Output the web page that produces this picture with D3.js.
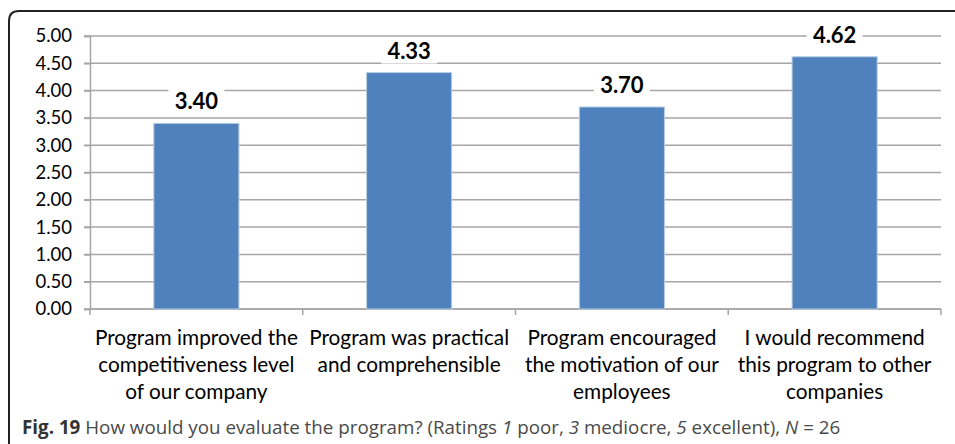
<!DOCTYPE html>
<html>
<head>
<meta charset="utf-8">
<script src="https://cdn.jsdelivr.net/npm/d3@7"></script>
<style>
  body { margin: 0; background: #fff; }
  svg { display: block; }
  .tick text { font-family: Lato, "Liberation Sans", sans-serif; }
</style>
</head>
<body>
<div id="canvas"></div>
<script>
const categories = [
  ['Program improved the', 'competitiveness level', 'of our company'],
  ['Program was practical', 'and comprehensible'],
  ['Program encouraged', 'the motivation of our', 'employees'],
  ['I would recommend', 'this program to other', 'companies']
];
const ratings = [3.40, 4.33, 3.70, 4.62];
const yTicks = [0, 0.5, 1, 1.5, 2, 2.5, 3, 3.5, 4, 4.5, 5];

const w = 955;
const h = 444;
const margin = { top: 36, right: 14, bottom: 135, left: 90 };

const svg = d3.select('#canvas')
  .append('svg')
  .attr('width', w)
  .attr('height', h);

// figure frame (rounded top-left corner)
svg.append('path')
  .attr('d', 'M9,' + h + ' L9,21 Q9,11 19,11 L' + w + ',11')
  .attr('fill', 'none')
  .attr('stroke', '#222')
  .attr('stroke-width', 2);

const xScale = d3.scaleBand()
  .domain(d3.range(categories.length))
  .range([margin.left, w - margin.right])
  .paddingInner(0.6)
  .paddingOuter(0.3);

const xOuter = d3.scaleBand()
  .domain(d3.range(categories.length))
  .range([margin.left, w - margin.right]);

const yScale = d3.scaleLinear()
  .domain([0, 5])
  .range([h - margin.bottom, margin.top]);

// gridlines
svg.append('g')
  .selectAll('line')
  .data(yTicks)
  .enter()
  .append('line')
  .attr('x1', margin.left - 6)
  .attr('x2', w - margin.right)
  .attr('y1', d => yScale(d))
  .attr('y2', d => yScale(d))
  .attr('stroke', '#a6a6a6')
  .attr('stroke-width', 1.5);

const yAxis = d3.axisLeft(yScale)
  .tickValues(yTicks)
  .tickFormat(d3.format('.2f'))
  .tickSize(6)
  .tickPadding(12);

const gy = svg.append('g')
  .attr('transform', 'translate(' + margin.left + ', 0)')
  .call(yAxis);
gy.select('.domain').attr('stroke', '#a6a6a6').attr('stroke-width', 1.5);
gy.selectAll('.tick line').attr('stroke', '#a6a6a6').attr('stroke-width', 1.5);
gy.selectAll('.tick text').attr('font-size', 18.5).attr('fill', '#000');

// x axis with category ticks at band boundaries
const boundaries = d3.range(categories.length + 1);
const gx = svg.append('g');
gx.append('line')
  .attr('x1', margin.left)
  .attr('x2', w - margin.right)
  .attr('y1', yScale(0))
  .attr('y2', yScale(0))
  .attr('stroke', '#a6a6a6')
  .attr('stroke-width', 1.5);
gx.selectAll('line.tk')
  .data(boundaries)
  .enter()
  .append('line')
  .attr('class', 'tk')
  .attr('x1', d => margin.left + d * xOuter.step())
  .attr('x2', d => margin.left + d * xOuter.step())
  .attr('y1', yScale(0))
  .attr('y2', yScale(0) + 6)
  .attr('stroke', '#a6a6a6')
  .attr('stroke-width', 1.5);

gx.selectAll('text')
  .data(categories)
  .enter()
  .append('text')
  .attr('text-anchor', 'middle')
  .attr('font-family', 'Lato, "Liberation Sans", sans-serif')
  .attr('font-size', 20.8)
  .attr('fill', '#000')
  .each(function(lines, i) {
    d3.select(this).selectAll('tspan')
      .data(lines)
      .enter()
      .append('tspan')
      .attr('x', xOuter(i) + xOuter.bandwidth() / 2)
      .attr('y', (d, j) => yScale(0) + 36 + j * 27)
      .text(d => d);
  });

// bars
svg.append('g')
  .selectAll('rect')
  .data(ratings)
  .enter()
  .append('rect')
  .attr('x', (d, i) => xScale(i))
  .attr('y', d => yScale(d))
  .attr('width', xScale.bandwidth())
  .attr('height', d => yScale(0) - yScale(d))
  .attr('fill', '#4f81bd')
  .attr('stroke', '#b9cde5')
  .attr('stroke-width', 1);

// value labels with white background
const labels = svg.append('g')
  .selectAll('g')
  .data(ratings)
  .enter()
  .append('g')
  .attr('transform', (d, i) => 'translate(' + (xScale(i) + xScale.bandwidth() / 2) + ',' + (yScale(d) - 22) + ')');

labels.append('rect')
  .attr('x', -28)
  .attr('y', -13)
  .attr('width', 56)
  .attr('height', 26)
  .attr('fill', '#fff');

labels.append('text')
  .attr('text-anchor', 'middle')
  .attr('dy', '0.36em')
  .attr('font-family', 'Lato, "Liberation Sans", sans-serif')
  .attr('font-weight', 'bold')
  .attr('font-size', 22)
  .attr('fill', '#000')
  .text(d => d3.format('.2f')(d));

// caption
const cap = svg.append('text')
  .attr('x', 22)
  .attr('y', 434)
  .attr('font-family', '"Open Sans", sans-serif')
  .attr('font-size', 18.8)
  .attr('fill', '#4a4a4a');
cap.append('tspan').attr('font-weight', 'bold').attr('fill', '#333').text('Fig. 19');
cap.append('tspan').text(' How would you evaluate the program? (Ratings ');
cap.append('tspan').attr('font-style', 'italic').text('1');
cap.append('tspan').text(' poor, ');
cap.append('tspan').attr('font-style', 'italic').text('3');
cap.append('tspan').text(' mediocre, ');
cap.append('tspan').attr('font-style', 'italic').text('5');
cap.append('tspan').text(' excellent), ');
cap.append('tspan').attr('font-style', 'italic').text('N');
cap.append('tspan').text(' = 26');
</script>
</body>
</html>
